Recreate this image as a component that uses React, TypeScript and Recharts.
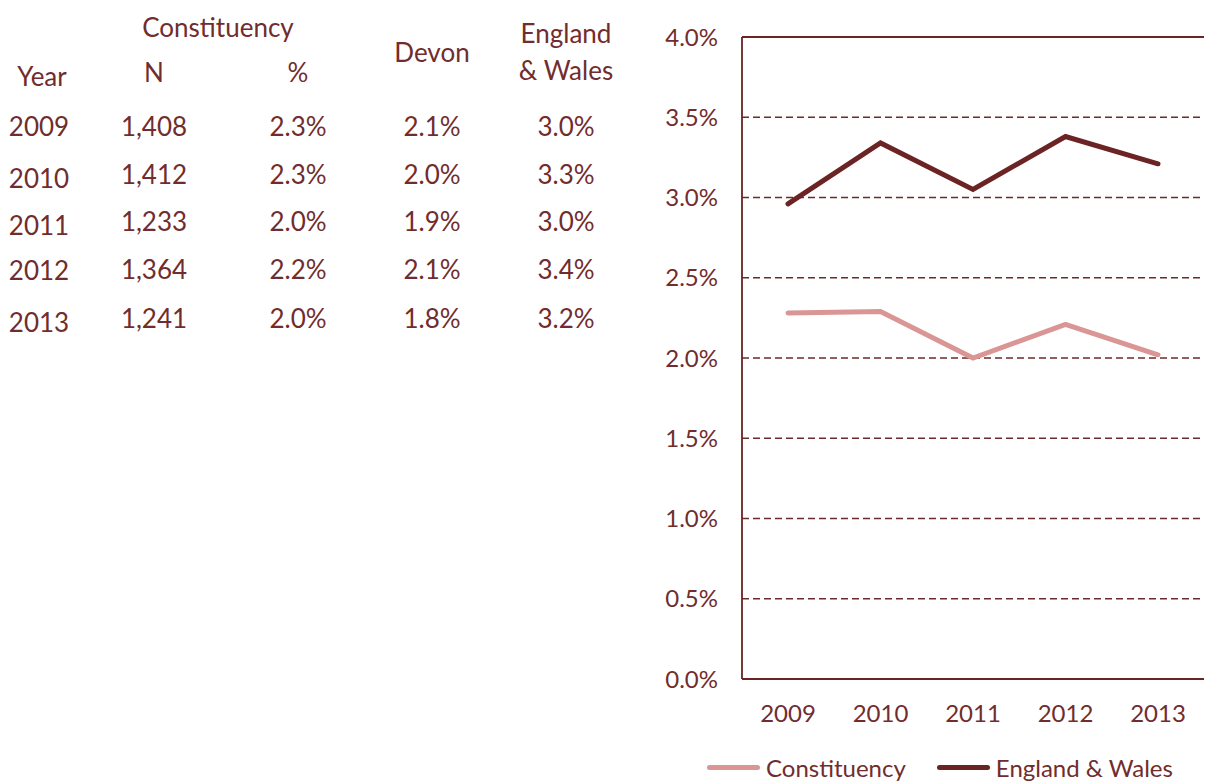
import React from 'react';
import { LineChart, Line, XAxis, YAxis, CartesianGrid, Legend, ReferenceLine } from 'recharts';

// ---- data ----
const years = ['2009', '2010', '2011', '2012', '2013'];
const constituencyN = [1408, 1412, 1233, 1364, 1241];
const constituencyPct = [2.3, 2.3, 2.0, 2.2, 2.0];
const devonPct = [2.1, 2.0, 1.9, 2.1, 1.8];
const englandWalesPct = [3.0, 3.3, 3.0, 3.4, 3.2];
const chartConstituency = [2.28, 2.29, 2.0, 2.21, 2.02];
const chartEnglandWales = [2.96, 3.34, 3.05, 3.38, 3.21];
const yTicks = [0, 0.5, 1, 1.5, 2, 2.5, 3, 3.5, 4];
const seriesNames = ['Constituency', 'England & Wales'];

// ---- styles ----
const TEXT = '#712D2D';
const DARK = '#6B2323';
const LIGHT = '#D99695';
const FONT = 'Lato, "Open Sans", sans-serif';

const chartData = years.map((y, i) => ({
  year: y,
  constituency: chartConstituency[i],
  ew: chartEnglandWales[i],
}));

// table layout (column centres, row centres)
const colX = { year: 39, n: 154, pct: 298, devon: 432, ew: 566 };
const rowY = [126, 174, 221, 269, 318];
const yearRowY = [126, 178, 225, 270, 322];

const Cell: React.FC<{ x: number; y: number; children: React.ReactNode }> = ({ x, y, children }) => (
  <div
    style={{
      position: 'absolute',
      left: x,
      top: y,
      transform: 'translate(-50%, -50%)',
      whiteSpace: 'nowrap',
      fontSize: 26,
      lineHeight: '30px',
      color: TEXT,
      fontFamily: FONT,
      textAlign: 'center',
    }}
  >
    {children}
  </div>
);

const fmtPct = (v: number) => v.toFixed(1) + '%';

const LegendContent = (props: any) => {
  const payload = props.payload || [];
  return (
    <div
      style={{
        height: 42,
        boxSizing: 'border-box',
        paddingTop: 15,
        paddingLeft: 57,
        display: 'flex',
        alignItems: 'center',
        fontFamily: FONT,
        fontSize: 24,
        color: TEXT,
      }}
    >
      {payload.map((p: any, i: number) => (
        <div key={i} style={{ display: 'flex', alignItems: 'center', marginRight: 31, lineHeight: '26px' }}>
          <span
            style={{
              display: 'inline-block',
              width: 53,
              height: 5,
              borderRadius: 3,
              background: p.color,
              marginRight: 6,
            }}
          />
          <span>{p.value}</span>
        </div>
      ))}
    </div>
  );
};

export default function App() {
  return (
    <div style={{ position: 'absolute', left: 0, top: 0, width: 1209, height: 781, background: '#fff' }}>
      {/* table */}
      <Cell x={218} y={27}>Constituency</Cell>
      <Cell x={42} y={76}>Year</Cell>
      <Cell x={colX.n} y={72}>N</Cell>
      <Cell x={colX.pct} y={72}>%</Cell>
      <Cell x={colX.devon} y={52}>Devon</Cell>
      <Cell x={colX.ew} y={33}>England</Cell>
      <Cell x={colX.ew} y={70}>&amp; Wales</Cell>
      {years.map((yr, i) => (
        <React.Fragment key={yr}>
          <Cell x={colX.year} y={yearRowY[i]}>{yr}</Cell>
          <Cell x={colX.n} y={rowY[i]}>{constituencyN[i].toLocaleString('en-US')}</Cell>
          <Cell x={colX.pct} y={rowY[i]}>{fmtPct(constituencyPct[i])}</Cell>
          <Cell x={colX.devon} y={rowY[i]}>{fmtPct(devonPct[i])}</Cell>
          <Cell x={colX.ew} y={rowY[i]}>{fmtPct(englandWalesPct[i])}</Cell>
        </React.Fragment>
      ))}

      {/* chart */}
      <div style={{ position: 'absolute', left: 650, top: 0 }}>
        <LineChart
          width={559}
          height={781}
          data={chartData}
          margin={{ top: 37, right: 5, left: 0, bottom: 0 }}
        >
          <CartesianGrid vertical={false} stroke="#6E2A2A" strokeDasharray="7 4" strokeWidth={1.4} />
          <XAxis
            dataKey="year"
            height={60}
            padding={{ left: 46, right: 46 }}
            tickLine={false}
            tickSize={0}
            tickMargin={26}
            axisLine={{ stroke: DARK, strokeWidth: 1.8 }}
            tick={{ fill: TEXT, fontSize: 24, fontFamily: FONT }}
            interval={0}
          />
          <YAxis
            width={92}
            domain={[0, 4]}
            ticks={yTicks}
            tickFormatter={fmtPct}
            tickLine={false}
            tickSize={0}
            tickMargin={24}
            axisLine={{ stroke: DARK, strokeWidth: 1.8 }}
            tick={{ fill: TEXT, fontSize: 24, fontFamily: FONT }}
          />
          <YAxis
            yAxisId="right"
            orientation="right"
            width={0}
            domain={[0, 4]}
            ticks={yTicks}
            tick={false}
            tickLine={false}
            axisLine={{ stroke: DARK, strokeWidth: 1.8 }}
          />
          <ReferenceLine y={4} stroke={DARK} strokeWidth={1.8} />
          <Legend
            verticalAlign="bottom"
            wrapperStyle={{ height: 42 }}
            content={<LegendContent />}
          />
          <Line
            type="linear"
            dataKey="constituency"
            name={seriesNames[0]}
            stroke={LIGHT}
            strokeWidth={5}
            strokeLinecap="round"
            dot={false}
            activeDot={false}
            isAnimationActive={false}
          />
          <Line
            type="linear"
            dataKey="ew"
            name={seriesNames[1]}
            stroke={DARK}
            strokeWidth={5}
            strokeLinecap="round"
            dot={false}
            activeDot={false}
            isAnimationActive={false}
          />
        </LineChart>
      </div>
    </div>
  );
}
